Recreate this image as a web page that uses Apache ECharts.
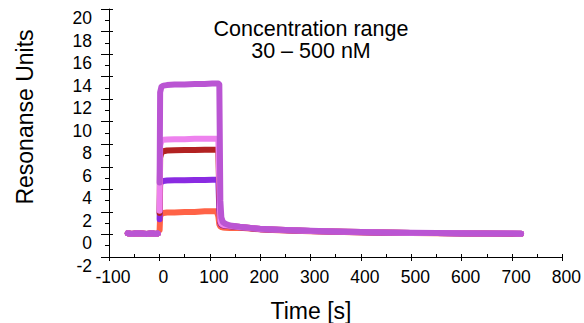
<!DOCTYPE html>
<html>
<head>
<meta charset="utf-8">
<script src="https://cdn.jsdelivr.net/npm/echarts@6/dist/echarts.min.js"></script>
<style>
  html, body { margin: 0; padding: 0; background: #fff; }
  #chart { width: 584px; height: 323px; }
</style>
</head>
<body>
<div id="chart"></div>
<script>
// baseline before injection (all curves overlap here)
const baseTimes = [-63, -55, -45, -35, -25, -15, -8, -3];
const baseline = [0.1, 0.05, 0.1, 0.08, 0.05, 0.1, 0.05, 0.08];

// association + dissociation
const runTimes = [0.5, 1.5, 4, 8, 15, 30, 50, 70, 90, 105, 114, 117, 119, 121, 123, 126, 131, 140,
  160, 200, 250, 300, 350, 400, 450, 500, 550, 600, 650, 700, 718];

const c30 = [0.4, 1.6, 1.85, 1.9, 1.95, 1.95, 2.0, 2.0, 2.05, 2.05, 2.05, 1.6, 0.9, 0.72, 0.66, 0.62, 0.6, 0.58,
  0.6, 0.45, 0.36, 0.28, 0.23, 0.18, 0.15, 0.12, 0.1, 0.08, 0.07, 0.06, 0.05];
const c60 = [1.35, 4.4, 4.7, 4.75, 4.78, 4.8, 4.8, 4.82, 4.82, 4.85, 4.85, 4.8, 2.2, 1.0, 0.85, 0.8, 0.76, 0.72,
  0.64, 0.47, 0.38, 0.3, 0.25, 0.2, 0.16, 0.13, 0.12, 0.09, 0.08, 0.07, 0.06];
const c125 = [1.9, 6.8, 7.25, 7.38, 7.45, 7.48, 7.5, 7.5, 7.52, 7.52, 7.52, 7.5, 3.5, 1.1, 0.9, 0.84, 0.8, 0.75,
  0.66, 0.48, 0.39, 0.31, 0.26, 0.21, 0.17, 0.14, 0.12, 0.1, 0.08, 0.07, 0.06];
const c250 = [2.1, 7.9, 8.3, 8.4, 8.42, 8.45, 8.45, 8.48, 8.5, 8.5, 8.5, 8.5, 4.5, 1.2, 0.95, 0.86, 0.82, 0.76,
  0.67, 0.49, 0.39, 0.31, 0.26, 0.21, 0.17, 0.14, 0.13, 0.1, 0.09, 0.08, 0.07];
const c500 = [4.6, 12.6, 13.1, 13.2, 13.25, 13.3, 13.3, 13.35, 13.35, 13.4, 13.4, 13.4, 13.3, 3.0, 1.5, 1.1, 0.95, 0.8,
  0.68, 0.5, 0.4, 0.32, 0.27, 0.22, 0.18, 0.15, 0.13, 0.1, 0.09, 0.08, 0.07];

const xTicks = { min: -100, max: 800, interval: 100 };
const yTicks = { min: -2, max: 20, interval: 2 };

const font = "'Liberation Sans', Arial, sans-serif";

function curve(vals) {
  const pts = baseTimes.map((t, i) => [t, baseline[i]]);
  pts.push([-1, '-']); // gap at injection
  runTimes.forEach((t, i) => pts.push([t, vals[i]]));
  return pts;
}

function line(name, color, vals) {
  return {
    name: name,
    type: "line",
    data: curve(vals),
    symbol: "none",
    connectNulls: false,
    lineStyle: { color: color, width: 6, cap: "round", join: "round" },
  };
}

const chart = echarts.init(document.getElementById("chart"), null, { renderer: "svg" });
chart.setOption({
  animation: false,
  grid: { left: 109, right: 21, top: 9, bottom: 66 },
  xAxis: [
    {
      type: "value",
      min: xTicks.min, max: xTicks.max, interval: xTicks.interval,
      axisLine: { onZero: false, lineStyle: { color: "#000", width: 1 } },
      axisTick: { inside: false, length: 4, lineStyle: { color: "#000" } },
      axisLabel: { color: "#000", fontSize: 17.5, fontFamily: font, margin: 11, padding: [0, 0, 0, 8] },
      splitLine: { show: false },
    },
    {
      type: "value",
      position: "bottom",
      min: xTicks.min, max: xTicks.max, interval: xTicks.interval,
      axisLine: { show: false, onZero: false },
      axisTick: { inside: true, length: 3, lineStyle: { color: "#000" } },
      minorTick: { show: true, splitNumber: 2, length: 3, lineStyle: { color: "#000" } },
      axisLabel: { show: false },
      splitLine: { show: false },
    },
  ],
  yAxis: [
    {
      type: "value",
      min: yTicks.min, max: yTicks.max, interval: yTicks.interval,
      axisLine: { onZero: false, lineStyle: { color: "#000", width: 1 } },
      axisTick: { inside: false, length: 8, lineStyle: { color: "#000" } },
      minorTick: { show: true, splitNumber: 2, length: 4, lineStyle: { color: "#000" } },
      axisLabel: { color: "#000", fontSize: 17.5, fontFamily: font, margin: 17, verticalAlign: "top" },
      splitLine: { show: false },
    },
    {
      type: "value",
      position: "left",
      min: yTicks.min, max: yTicks.max, interval: yTicks.interval,
      axisLine: { show: false, onZero: false },
      axisTick: { inside: true, length: 4, lineStyle: { color: "#000" } },
      axisLabel: { show: false },
      splitLine: { show: false },
    },
  ],
  graphic: [
    {
      type: "text", x: 25, y: 117, rotation: Math.PI / 2,
      style: { text: "Resonanse Units", font: "23px " + font, fill: "#000", align: "center", verticalAlign: "middle" },
    },
    {
      type: "text", x: 311, y: 311,
      style: { text: "Time [s]", font: "23px " + font, fill: "#000", align: "center", verticalAlign: "middle" },
    },
    {
      type: "text", x: 311, y: 29,
      style: { text: "Concentration range", font: "21.5px " + font, fill: "#000", align: "center", verticalAlign: "middle" },
    },
    {
      type: "text", x: 311, y: 51,
      style: { text: "30 – 500 nM", font: "21.5px " + font, fill: "#000", align: "center", verticalAlign: "middle" },
    },
  ],
  series: [
    line("30 nM", "#ff6347", c30),
    line("60 nM", "#8a2be2", c60),
    line("125 nM", "#b22222", c125),
    line("250 nM", "#ee82ee", c250),
    line("500 nM", "#ba55d3", c500),
  ],
});
</script>
</body>
</html>
